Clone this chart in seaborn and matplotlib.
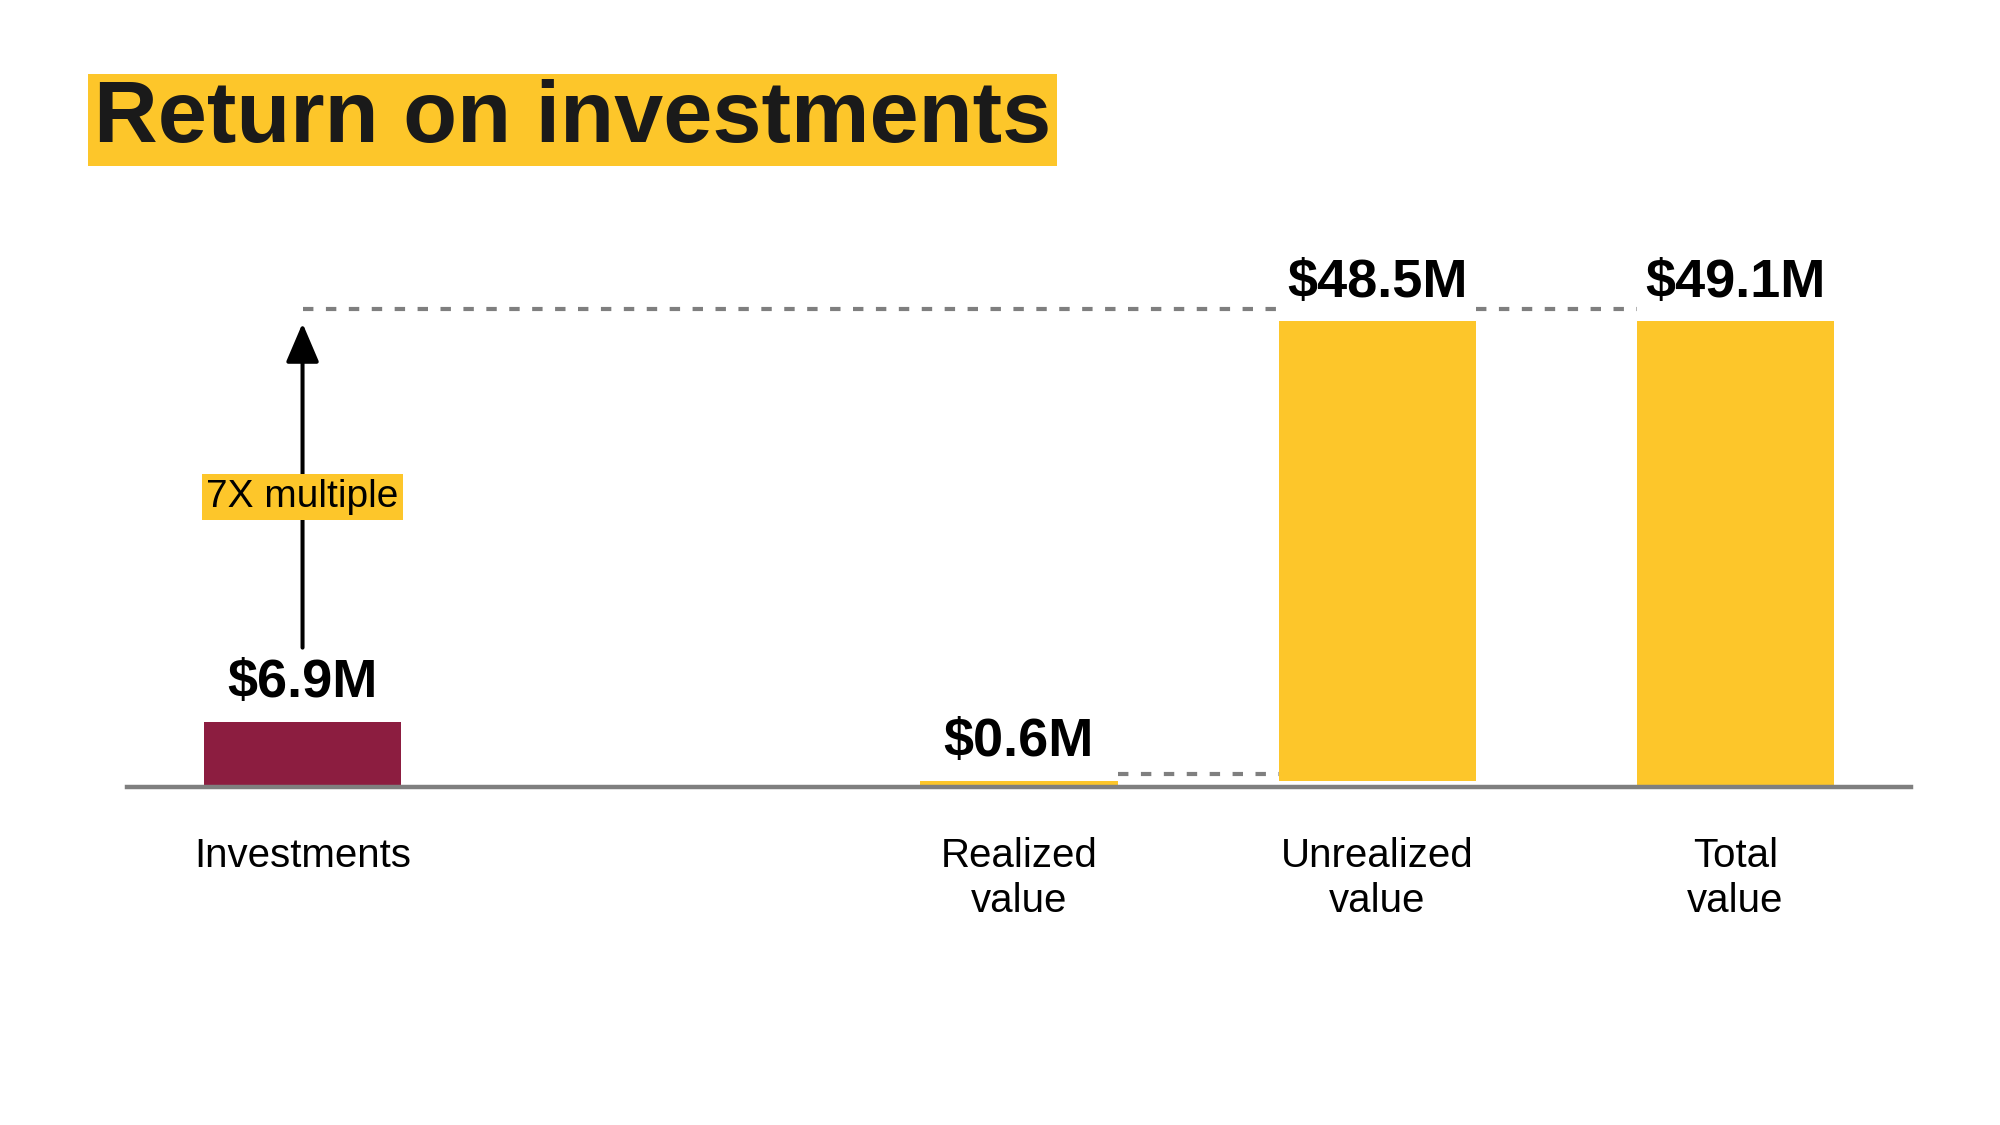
import matplotlib
matplotlib.use("Agg")
import matplotlib.pyplot as plt
import seaborn as sns
import pandas as pd

sns.set_theme(style="white")
plt.rcParams['font.family'] = ['Liberation Sans', 'DejaVu Sans']

# ---- data ----
categories = ["Investments", "Realized\nvalue", "Unrealized\nvalue", "Total\nvalue"]
slot_order = ["Investments", "gap", "Realized\nvalue", "Unrealized\nvalue", "Total\nvalue"]
tick_labels = ["Investments", "", "Realized\nvalue", "Unrealized\nvalue", "Total\nvalue"]
values = [6.9, 0.6, 48.5, 49.1]
bases = [0.0, 0.0, 0.6, 0.0]
value_labels = ["$6.9M", "$0.6M", "$48.5M", "$49.1M"]
multiple_label = "7X multiple"
title = "Return on investments"

YELLOW = "#FDC62A"
MAROON = "#8C1D40"
GRAY = "#7F7F7F"
colors = {"Investments": MAROON, "Realized\nvalue": YELLOW,
          "Unrealized\nvalue": YELLOW, "Total\nvalue": YELLOW}

df = pd.DataFrame({"category": categories, "value": values, "base": bases})

fig = plt.figure(figsize=(20, 11.25), dpi=100)
ax = fig.add_axes([0.0635, 0.3004, 0.892, 0.5218])

sns.barplot(data=df, x="category", y="value", hue="category", order=slot_order,
            palette=colors, width=0.55, linewidth=0, saturation=1, legend=False, ax=ax)

# float waterfall bars on their bases
pos = {c: slot_order.index(c) for c in categories}
bar_w = 0.55
for patch in ax.patches:
    cx = patch.get_x() + patch.get_width() / 2
    for c, b in zip(categories, bases):
        if abs(cx - pos[c]) < 0.01:
            patch.set_y(b)

ax.set_xlim(-0.49, 4.49)
ax.set_ylim(0, 61.9)

# value labels
for c, v, b, lab in zip(categories, values, bases, value_labels):
    ax.annotate(lab, (pos[c], v + b), xytext=(0, 10), textcoords="offset points",
                ha="center", va="bottom", fontsize=39, fontweight="bold", color="black")

# dashed connectors
top_line = 50.4
dash_kw = dict(color=GRAY, lw=3.0, dashes=(2.5, 3), solid_capstyle="butt")
ax.plot([pos["Investments"], pos["Unrealized\nvalue"] - bar_w / 2], [top_line, top_line], **dash_kw)
ax.plot([pos["Unrealized\nvalue"] + bar_w / 2, pos["Total\nvalue"] - bar_w / 2], [top_line, top_line], **dash_kw)
ax.plot([pos["Realized\nvalue"] + bar_w / 2, pos["Unrealized\nvalue"] - bar_w / 2],
        [values[1] + 0.8, values[1] + 0.8], **dash_kw)

# multiple arrow
x0 = pos["Investments"]
ax.annotate("", xy=(x0, 48.9), xytext=(x0, 14.7),
            arrowprops=dict(arrowstyle="-|>,head_length=0.75,head_width=0.32",
                            color="black", lw=2.9, mutation_scale=32, shrinkA=0, shrinkB=0))
ax.text(x0, 30.6, multiple_label, ha="center", va="center", fontsize=28, color="black",
        bbox=dict(boxstyle="square,pad=0.12", fc=YELLOW, ec="none"))

# axes styling
for s in ["left", "right", "top"]:
    ax.spines[s].set_visible(False)
ax.spines["bottom"].set_color(GRAY)
ax.spines["bottom"].set_linewidth(3.2)
ax.set_yticks([])
ax.set_xticks(range(len(slot_order)))
ax.set_xticklabels(tick_labels, fontsize=29, color="black", linespacing=1.22)
ax.tick_params(axis="x", length=0, pad=36)
ax.set_xlabel("")
ax.set_ylabel("")

# title
fig.text(0.0468, 0.8935, title, ha="left", va="center", fontsize=63.5, fontweight="bold",
         color="#1A1A1A", bbox=dict(boxstyle="square,pad=0.065", fc=YELLOW, ec="none"))

fig.savefig("out.png", dpi=100, facecolor="white")
